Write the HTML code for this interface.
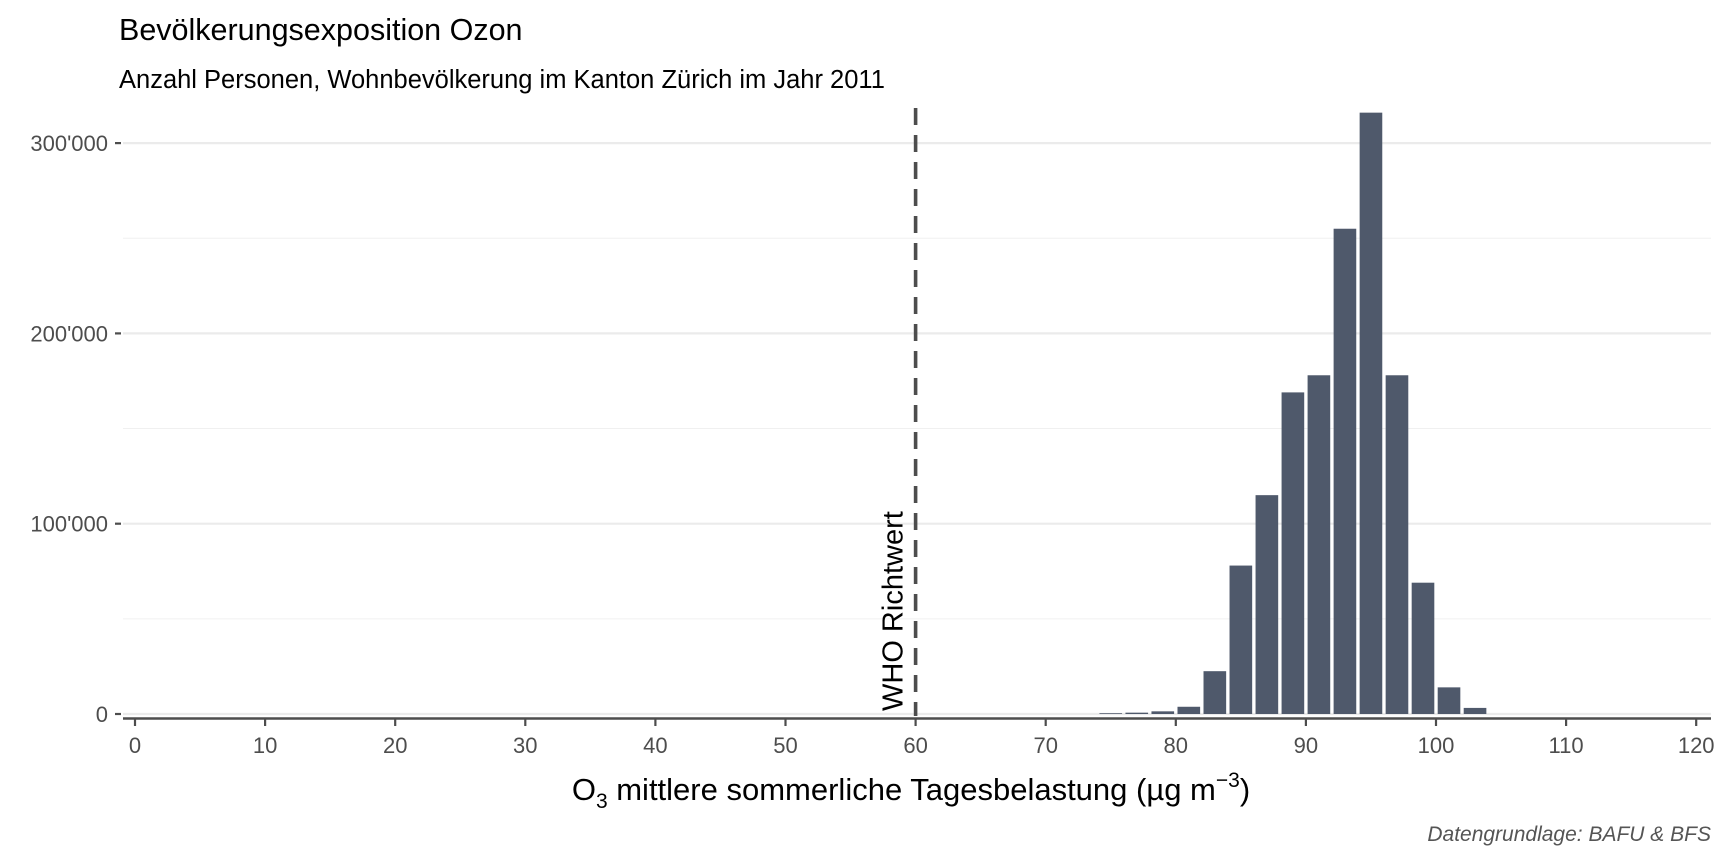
<!DOCTYPE html>
<html><head><meta charset="utf-8"><style>
html,body{margin:0;padding:0;background:#fff;}
svg{display:block;font-family:"Liberation Sans",Arial,sans-serif;}
</style></head><body>
<svg id="chart" width="1728" height="864" viewBox="0 0 1728 864">
<text x="119" y="40" font-size="30.5" fill="#000">Bevölkerungsexposition Ozon</text>
<text x="119" y="88" font-size="25.5" fill="#000">Anzahl Personen, Wohnbevölkerung im Kanton Zürich im Jahr 2011</text>
<g id="grid"></g>
<g id="bars"></g>
<g id="axes"></g>
<text x="911" y="800" font-size="31" text-anchor="middle" fill="#000">O<tspan font-size="21" dy="8">3</tspan><tspan dy="-8"> mittlere sommerliche Tagesbelastung (µg m</tspan><tspan font-size="21" dy="-13">−3</tspan><tspan dy="13">)</tspan></text>
<text x="1711" y="841" font-size="21" font-style="italic" text-anchor="end" fill="#555">Datengrundlage: BAFU &amp; BFS</text>
</svg>
<script>
const binCenters = [75,77,79,81,83,85,87,89,91,93,95,97,99,101,103];
const persons = [400,700,1400,3800,22500,78000,115000,169000,178000,255000,316000,178000,69000,14000,3200];
const xTicks = [0,10,20,30,40,50,60,70,80,90,100,110,120];
const yTicks = [0,100000,200000,300000];
const yTickLabels = ["0","100'000","200'000","300'000"];
const yMinor = [50000,150000,250000];
const whoValue = 60;
const whoLabel = "WHO Richtwert";

const NS="http://www.w3.org/2000/svg";
const X0=135, XS=13.01, Y0=714, YS=190.3/100000;
const xs=v=>X0+v*XS, ys=v=>Y0-v*YS;
const PL=123, PR=1711;
function mk(tag,attrs,parent){const e=document.createElementNS(NS,tag);for(const k in attrs)e.setAttribute(k,attrs[k]);parent.appendChild(e);return e;}
const grid=document.getElementById('grid'), barsG=document.getElementById('bars'), axes=document.getElementById('axes');
yMinor.forEach(v=>{const l=mk('line',{x1:PL,x2:PR,y1:ys(v),y2:ys(v),stroke:'#f0f0f0','stroke-width':1},grid);

});
yTicks.forEach((v,i)=>{const l=mk('line',{x1:PL,x2:PR,y1:ys(v),y2:ys(v),stroke:'#ebebeb','stroke-width':2.2},grid);


const t=mk('line',{x1:115,x2:121,y1:ys(v),y2:ys(v),stroke:'#4d4d4d','stroke-width':2.2},axes);


const tx=mk('text',{x:108,y:ys(v)+8,'font-size':22,'text-anchor':'end',fill:'#4d4d4d'},axes);
tx.textContent=yTickLabels[i];

});
binCenters.forEach((c,i)=>{const w=1.74*XS;const r=mk('rect',{x:xs(c)-w/2,y:ys(persons[i]),width:w,height:Y0-ys(persons[i]),fill:'#4f596b'},barsG);

});
const ax=mk('line',{x1:PL,x2:PR,y1:718.5,y2:718.5,stroke:'#4d4d4d','stroke-width':2.6},axes);


xTicks.forEach(v=>{const t=mk('line',{x1:xs(v),x2:xs(v),y1:719,y2:726,stroke:'#4d4d4d','stroke-width':2.2},axes);


const tx=mk('text',{x:xs(v),y:753,'font-size':22,'text-anchor':'middle',fill:'#4d4d4d'},axes);
tx.textContent=String(v);

});
const wl=mk('line',{x1:xs(whoValue),x2:xs(whoValue),y1:108,y2:716,stroke:'#4d4d4d','stroke-width':3.6,'stroke-dasharray':'17 10'},axes);


const wt=mk('text',{x:0,y:0,'font-size':29,fill:'#000',transform:`translate(${xs(whoValue)-13},711) rotate(-90)`},axes);
wt.textContent=whoLabel;


</script>
</body></html>
